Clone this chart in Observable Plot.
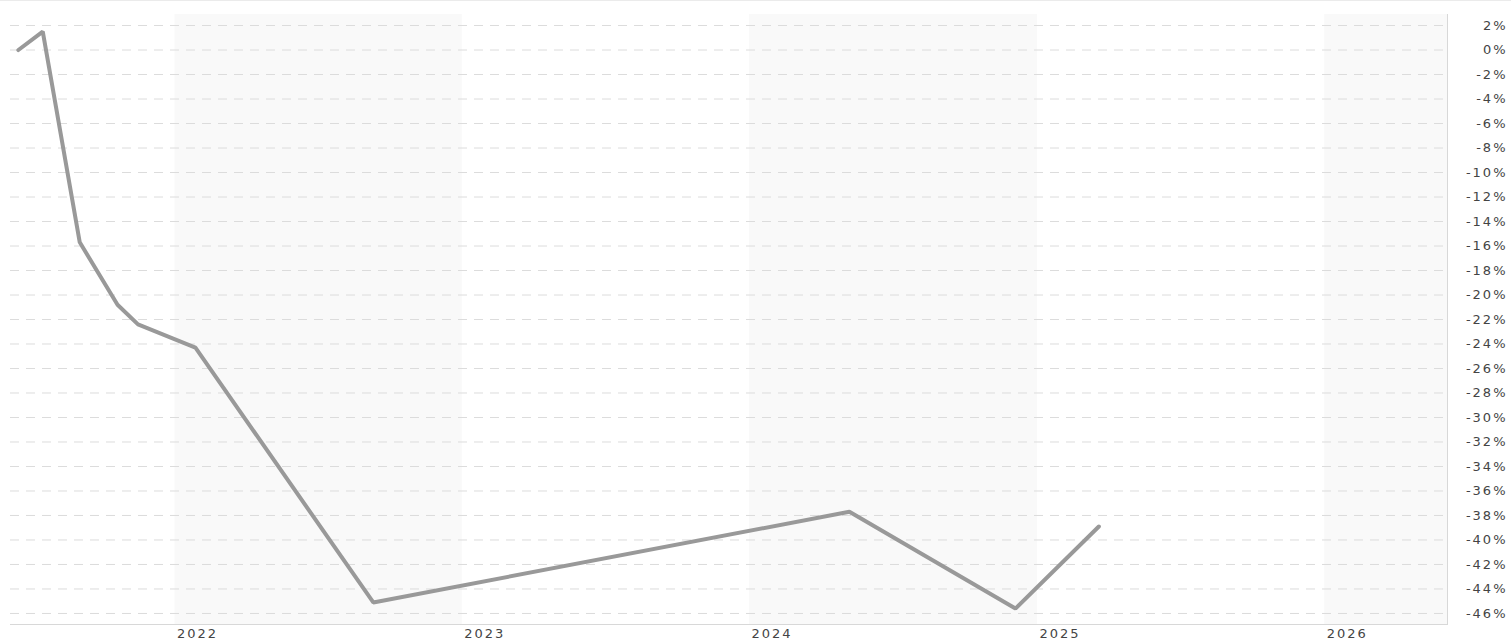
<!DOCTYPE html>
<html>
<head>
<meta charset="utf-8">
<script src="https://cdn.jsdelivr.net/npm/d3@7"></script>
<script src="https://cdn.jsdelivr.net/npm/@observablehq/plot@0.6"></script>
<style>
  html, body { margin: 0; padding: 0; background: #fff; }
  #chart svg { display: block; border-top: 1px solid #ebebeb; box-sizing: border-box; }
</style>
</head>
<body>
<div id="chart"></div>
<script>
// Data
const dates = ["2021-06-16", "2021-07-17", "2021-09-02", "2021-10-20", "2021-11-15",
               "2022-01-27", "2022-09-10", "2024-05-07", "2024-12-04", "2025-03-20"];
const values = [0, 1.5, -15.7, -20.8, -22.4, -24.3, -45.1, -37.7, -45.6, -38.9];

const yTicks = [2, 0, -2, -4, -6, -8, -10, -12, -14, -16, -18, -20, -22, -24,
                -26, -28, -30, -32, -34, -36, -38, -40, -42, -44, -46];
const xTickYears = [2022, 2023, 2024, 2025, 2026];
const shadedYears = [2022, 2024, 2026];

const xDomain = [new Date("2021-06-06"), new Date("2026-06-06")];
const yDomain = [-46.9, 2.9];

const data = dates.map((d, i) => ({date: new Date(d), value: values[i]}));
const bands = shadedYears.map(y => ({
  start: new Date(Date.UTC(y, 0, 1)),
  end: new Date(Math.min(Date.UTC(y + 1, 0, 1), +xDomain[1]))
}));
const xTicks = xTickYears.map(y => new Date(Date.UTC(y, 0, 1)));

const chart = Plot.plot({
  width: 1511,
  height: 639,
  marginTop: 13,
  marginRight: 64,
  marginBottom: 16,
  marginLeft: 10,
  style: {fontFamily: "DejaVu Sans", fontSize: "13px", color: "#444", letterSpacing: "2px", background: "#fff"},
  x: {type: "utc", domain: xDomain},
  y: {domain: yDomain},
  marks: [
    Plot.rect(bands, {x1: "start", x2: "end", fill: "#f9f9f9"}),
    Plot.ruleY(yTicks, {stroke: "#dcdcdc", strokeDasharray: "9,7", strokeWidth: 1}),
    Plot.frame({anchor: "right", stroke: "#d8d8d8"}),
    Plot.frame({anchor: "bottom", stroke: "#d8d8d8"}),
    Plot.line(data, {x: "date", y: "value", stroke: "#999", strokeWidth: 4, strokeLinejoin: "miter"}),
    Plot.axisY({anchor: "right", ticks: yTicks, tickSize: 0, tickPadding: 0, textAnchor: "end", dx: 60,
                tickFormat: d => d + "%", label: null, fill: "#444"}),
    Plot.axisX({ticks: xTicks, tickSize: 0, tickPadding: 4, textAnchor: "start", dx: 2,
                tickFormat: d => String(d.getUTCFullYear()), label: null, fill: "#444"})
  ]
});
document.getElementById("chart").appendChild(chart);
</script>
</body>
</html>
